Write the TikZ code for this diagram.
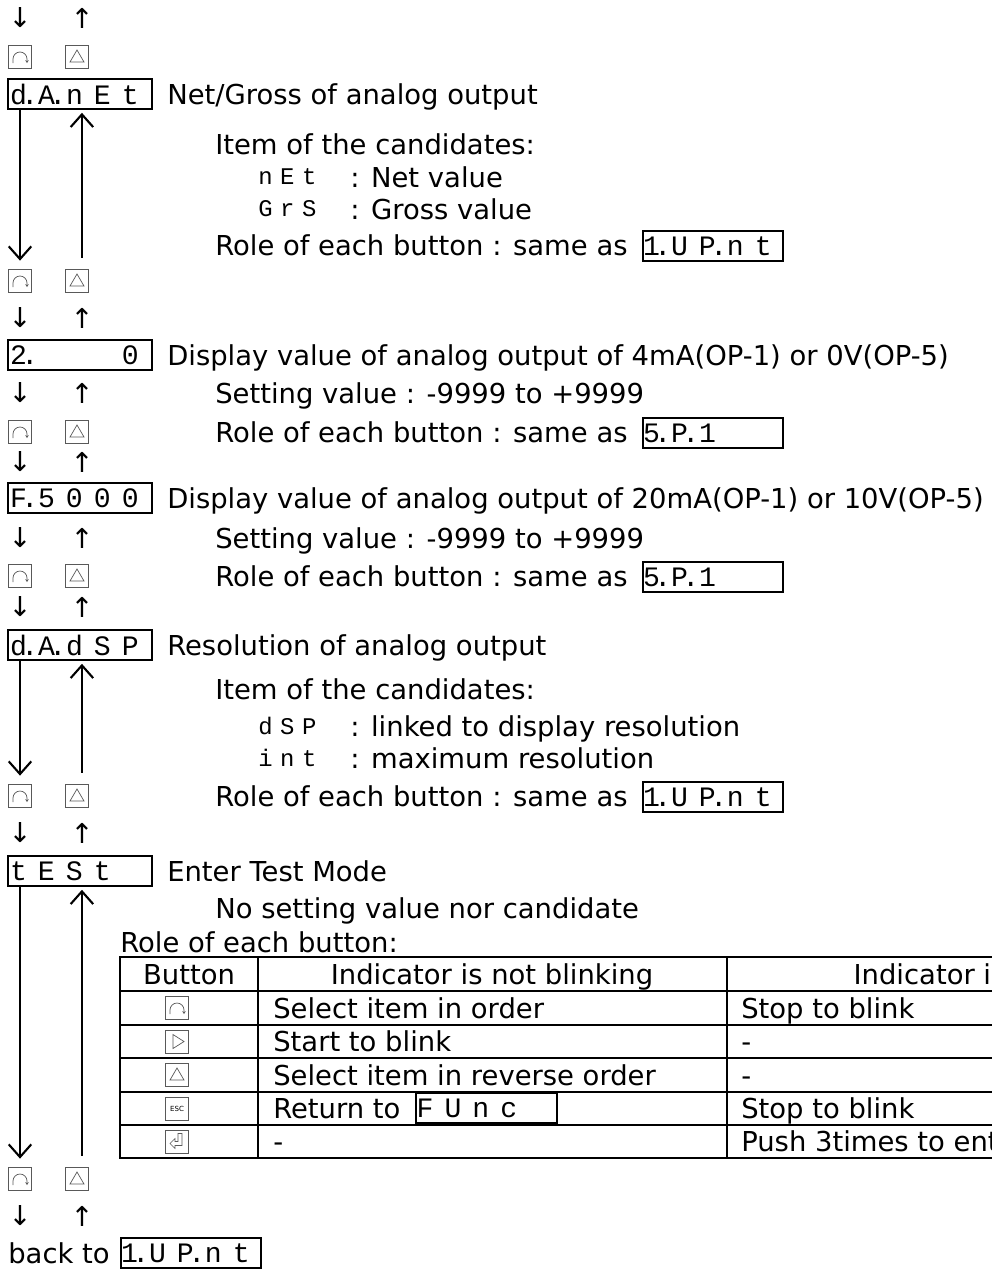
\documentclass[tikz,border=0pt]{standalone}
\usepackage{fontspec}
\setmainfont{DejaVu Sans}
\newfontfamily\segfont{Liberation Mono}
\usetikzlibrary{arrows.meta,positioning}

% one digit cell of the displays (with and without decimal point)
\newcommand\sg[1]{\makebox[19.9pt][l]{#1}}
\newcommand\sgd[1]{\makebox[19.9pt][l]{#1\kern-4pt\rlap{.}}}
\newcommand\sgs[1]{\makebox[15.6pt][l]{#1}}

\begin{document}
\begin{tikzpicture}[x=0.025cm, y=-0.025cm,
    every node/.style={font=\fontsize{19.5}{23}\selectfont},
    txt/.style={anchor=west, inner sep=0pt, text height=14.5pt, text depth=0pt},
    ctr/.style={inner sep=0pt, text height=14.5pt, text depth=0pt},
    arr/.style={inner sep=0pt},
    disp/.style={draw, line width=1.4pt, minimum width=3.6cm, minimum height=0.75cm,
                 inner sep=0pt, font=\segfont\fontsize{20}{20}\selectfont},
    ref/.style={disp, minimum width=3.5cm},
    seg/.style={anchor=west, inner sep=0pt, font=\segfont\fontsize{17}{17}\selectfont},
    btn/.style={draw=black!65, line width=0.6pt, minimum size=0.575cm, inner sep=0pt},
    rot/.style={btn, path picture={
        \draw[line width=0.5pt, -{Stealth[length=2pt,width=2.5pt]}]
          ([shift={(-7,6)}]path picture bounding box.center) -- ++(0,-4) arc (180:360:7) -- ++(0,4);}},
    uptri/.style={btn, path picture={
        \draw[line width=0.5pt]
          ([shift={(-7,5)}]path picture bounding box.center) -- ++(14,0) -- ++(-7,-12) -- cycle;}},
    rttri/.style={btn, path picture={
        \draw[line width=0.5pt]
          ([shift={(-4,-7)}]path picture bounding box.center) -- ++(0,14) -- ++(11,-7) -- cycle;}},
    esc/.style={btn, font=\fontsize{5}{5}\selectfont},
    ret/.style={btn, path picture={
        \draw[line width=0.4pt]
          ([shift={(5,-8)}]path picture bounding box.center) -- ++(0,12) -- ++(-7,0) -- ++(0,3)
          -- ++(-5,-5) -- ++(5,-5) -- ++(0,3) -- ++(3,0) -- ++(0,-8) -- cycle;}},
    longarrow/.style={line width=1.5pt, -{Straight Barb[length=9pt,width=16pt]}},
    tbl/.style={line width=1.4pt}
  ]
  \useasboundingbox (0,0) rectangle (992,1270);
  \clip (0,0) rectangle (992,1270);

  % d.A.nEt
  \node[arr] (dnA) at (20,18) {↓};
  \node[arr] (upA) at (82,18) {↑};
  \node[rot] (rotA) at (20,57) {};
  \node[uptri] (triA) at (77,57) {};
  \node[disp] (danet) at (80,94) {\sgd{d}\sgd{A}\sg{n}\sg{E}\sg{t}};
  \node[txt] at (167,94) {Net/Gross of analog output};
  \node[txt] at (215,144) {Item of the candidates:};
  \node[seg] at (258,177) {\sgs{n}\sgs{E}\sgs{t}};
  \node[txt] at (350,177) {: Net value};
  \node[seg] at (258,209) {\sgs{G}\sgs{r}\sgs{S}};
  \node[txt] at (350,209) {: Gross value};
  \node[txt] at (215,245) {Role of each button : same as};
  \node[ref] (refA) at (713,246) {\sgd{1}\sg{U}\sgd{P}\sg{n}\sg{t}};
  \node[rot] (rotB) at (20,281) {};
  \node[uptri] (triB) at (77,281) {};
  \coordinate (backB) at ([xshift=3.5pt]triB.north);
  \draw[longarrow, shorten >=6] (danet.south -| rotB) -- (rotB.north);
  \draw[longarrow, shorten <=8, shorten >=2] (backB) -- (backB |- danet.south);

  % 2.   0
  \node[arr] (dnB) at (20,318) {↓};
  \node[arr] (upB) at (82,318) {↑};
  \node[disp] (lowv) at (80,355) {\sgd{2}\sg{}\sg{}\sg{}\sg{0}};
  \node[txt] at (167,355) {Display value of analog output of 4mA(OP-1) or 0V(OP-5)};
  \node[arr] (dnC) at (20,393) {↓};
  \node[arr] (upC) at (82,393) {↑};
  \node[txt] at (215,393) {Setting value : -9999 to +9999};
  \node[rot] (rotC) at (20,432) {};
  \node[uptri] (triC) at (77,432) {};
  \node[txt] at (215,432) {Role of each button : same as};
  \node[ref] (refB) at (713,433) {\sgd{5}\sgd{P}\sg{1}\sg{}\sg{}};

  % F.5000
  \node[arr] (dnD) at (20,462) {↓};
  \node[arr] (upD) at (82,462) {↑};
  \node[disp] (highv) at (80,498) {\sgd{F}\sg{5}\sg{0}\sg{0}\sg{0}};
  \node[txt] at (167,498) {Display value of analog output of 20mA(OP-1) or 10V(OP-5)};
  \node[arr] (dnE) at (20,538) {↓};
  \node[arr] (upE) at (82,538) {↑};
  \node[txt] at (215,538) {Setting value : -9999 to +9999};
  \node[rot] (rotD) at (20,576) {};
  \node[uptri] (triD) at (77,576) {};
  \node[txt] at (215,576) {Role of each button : same as};
  \node[ref] (refC) at (713,577) {\sgd{5}\sgd{P}\sg{1}\sg{}\sg{}};

  % d.A.dSP
  \node[arr] (dnF) at (20,607) {↓};
  \node[arr] (upF) at (82,607) {↑};
  \node[disp] (dadsp) at (80,645) {\sgd{d}\sgd{A}\sg{d}\sg{S}\sg{P}};
  \node[txt] at (167,645) {Resolution of analog output};
  \node[txt] at (215,689) {Item of the candidates:};
  \node[seg] at (258,726) {\sgs{d}\sgs{S}\sgs{P}};
  \node[txt] at (350,726) {: linked to display resolution};
  \node[seg] at (258,758) {\sgs{i}\sgs{n}\sgs{t}};
  \node[txt] at (350,758) {: maximum resolution};
  \node[txt] at (215,796) {Role of each button : same as};
  \node[ref] (refD) at (713,797) {\sgd{1}\sg{U}\sgd{P}\sg{n}\sg{t}};
  \node[rot] (rotE) at (20,796) {};
  \node[uptri] (triE) at (77,796) {};
  \coordinate (backE) at ([xshift=3.5pt]triE.north);
  \draw[longarrow, shorten >=6] (dadsp.south -| rotE) -- (rotE.north);
  \draw[longarrow, shorten <=8, shorten >=2] (backE) -- (backE |- dadsp.south);

  % tESt
  \node[arr] (dnG) at (20,833) {↓};
  \node[arr] (upG) at (82,833) {↑};
  \node[disp] (test) at (80,871) {\sg{t}\sg{E}\sg{S}\sg{t}\sg{}};
  \node[txt] at (167,871) {Enter Test Mode};
  \node[txt] at (215,908) {No setting value nor candidate};
  \node[txt] at (120,942) {Role of each button:};

  % table
  \draw[tbl] (120,957) rectangle (1250,1158);
  \foreach \y in {991,1025,1058,1092,1125}
    \draw[tbl] (120,\y) -- (1250,\y);
  \foreach \x in {258,727}
    \draw[tbl] (\x,957) -- (\x,1158);
  \node[ctr] at (189,974) {Button};
  \node[ctr] at (492,974) {Indicator is not blinking};
  \node[ctr] at (988,974) {Indicator is blinking};
  \node[rot] (tRot) at (177,1008) {};
  \node[rttri] (tRt) at (177,1041.5) {};
  \node[uptri] (tUp) at (177,1075) {};
  \node[esc] (tEsc) at (177,1108.5) {ESC};
  \node[ret] (tRet) at (177,1141.5) {};
  \node[txt] at (273,1008) {Select item in order};
  \node[txt] at (273,1041.5) {Start to blink};
  \node[txt] at (273,1075) {Select item in reverse order};
  \node[txt] at (273,1108.5) {Return to};
  \node[ref, minimum width=3.525cm] (func) at (486.5,1108) {\sg{F}\sg{U}\sg{n}\sg{c}\sg{}};
  \node[txt] at (273,1141.5) {-};
  \node[txt] at (741,1008) {Stop to blink};
  \node[txt] at (741,1041.5) {-};
  \node[txt] at (741,1075) {-};
  \node[txt] at (741,1108.5) {Stop to blink};
  \node[txt] at (741,1141.5) {Push 3times to enter Test Mode};

  \node[rot] (rotG) at (20,1179) {};
  \node[uptri] (triG) at (77,1179) {};
  \coordinate (backG) at ([xshift=3.5pt]triG.north);
  \draw[longarrow, shorten >=6] (test.south -| rotG) -- (rotG.north);
  \draw[longarrow, shorten <=8, shorten >=2] (backG) -- (backG |- test.south);
  \node[arr] (dnH) at (20,1216) {↓};
  \node[arr] (upH) at (82,1216) {↑};
  \node[txt] at (8,1253) {back to};
  \node[ref] (refE) at (191,1253) {\sgd{1}\sg{U}\sgd{P}\sg{n}\sg{t}};
\end{tikzpicture}
\end{document}
